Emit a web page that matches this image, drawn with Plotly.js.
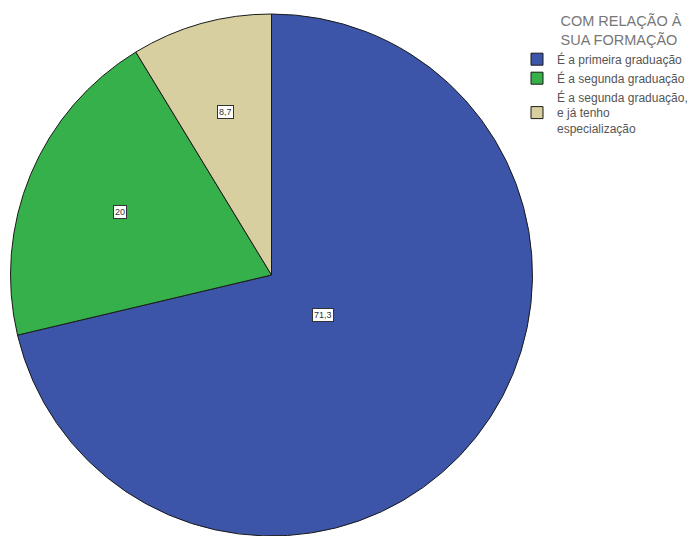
<!DOCTYPE html>
<html><head><meta charset="utf-8">
<script src="https://cdn.plot.ly/plotly-3.0.1.min.js"></script>
<style>html,body{margin:0;padding:0;background:#fff}#c{width:697px;height:536px}</style>
</head><body><div id="c"></div>
<script>
var categories = ["É a primeira graduação", "É a segunda graduação", "É a segunda graduação,<br>e já tenho<br>especialização"];
var values = [71.3, 20, 8.7];
var colors = ["#3c55a8", "#36b04b", "#d7cf9f"];
var labelRadius = [0.25, 0.63, 0.65];
var legendTitleLines = ["COM RELAÇÃO À", "SUA FORMAÇÃO"];

var W = 697, H = 536;
var domX = [10 / W, 533 / W], domY = [0, 1 - 14 / H];
var cxPx = (domX[0] + domX[1]) / 2 * W;
var cyPx = H - (domY[0] + domY[1]) / 2 * H;
var rPx = Math.min((domX[1] - domX[0]) * W, (domY[1] - domY[0]) * H) / 2;

var total = values.reduce(function (a, b) { return a + b; }, 0);
var ann = [], cum = 0;
values.forEach(function (v, i) {
  var mid = (cum + v / 2) / total * 2 * Math.PI;
  cum += v;
  var px = cxPx + rPx * labelRadius[i] * Math.sin(mid);
  var py = cyPx - rPx * labelRadius[i] * Math.cos(mid);
  ann.push({
    x: px / W, y: 1 - py / H, xref: "paper", yref: "paper",
    text: String(v).replace(".", ","), showarrow: false,
    font: {family: "Liberation Sans, Arial", size: 9, color: "#333"},
    bgcolor: "#ffffff", bordercolor: "#333", borderwidth: 1, borderpad: 1,
    xanchor: "center", yanchor: "middle"
  });
});

var pad = "&nbsp;&nbsp;&nbsp;&nbsp;&nbsp;&nbsp;&nbsp;&nbsp;";
var titleText = legendTitleLines.map(function (s) { return pad + s; }).join("<br>");

var data = [{
  type: "pie", labels: categories, values: values, sort: false,
  direction: "clockwise", rotation: 0,
  marker: {colors: colors, line: {color: "#1a1a1a", width: 1}},
  textinfo: "none", hoverinfo: "label+value",
  domain: {x: domX, y: domY}
}];

var layout = {
  width: W, height: H, margin: {l: 0, r: 0, t: 0, b: 0},
  paper_bgcolor: "#fff", plot_bgcolor: "#fff",
  showlegend: true,
  legend: {
    x: 517 / W, y: 1 - 7 / H, xanchor: "left", yanchor: "top",
    font: {family: "Liberation Sans, Arial", size: 12, color: "#555"},
    title: {text: titleText, side: "top center",
            font: {family: "Liberation Sans, Arial", size: 14.5, color: "#777"}},
    tracegroupgap: 0, bgcolor: "rgba(0,0,0,0)"
  },
  annotations: ann
};
Plotly.newPlot("c", data, layout, {displayModeBar: false, staticPlot: true});
</script></body></html>
